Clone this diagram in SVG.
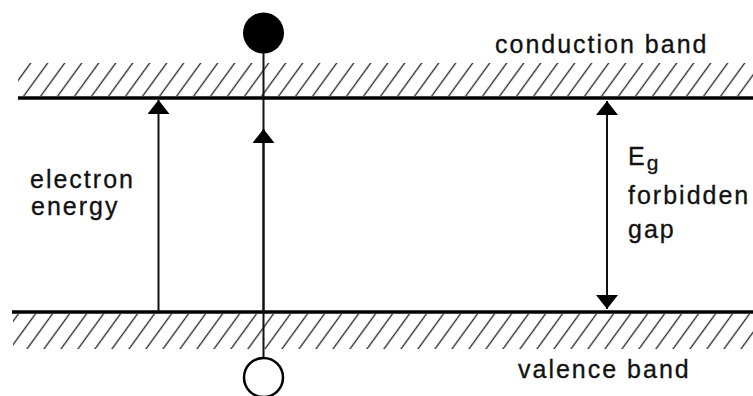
<svg xmlns="http://www.w3.org/2000/svg" width="753" height="396" viewBox="0 0 753 396">
<style>
  .lbl { font-family: "Liberation Sans", Arial, Helvetica, sans-serif; font-size: 25px; fill: #111; letter-spacing: 2px; stroke: #111; stroke-width: 0.3; }
  .band { stroke: #000; stroke-width: 3.5; }
  .conn { stroke: #111; stroke-width: 2; fill: none; }
</style>
<defs>
  <pattern id="hatch" patternUnits="userSpaceOnUse" width="17" height="40" patternTransform="skewX(-36)">
    <line x1="8.5" y1="-5" x2="8.5" y2="45" stroke="#222" stroke-width="1.6"/>
  </pattern>
  <marker id="head" markerUnits="userSpaceOnUse" markerWidth="14" markerHeight="22" viewBox="0 0 14 22" refX="14" refY="11" orient="auto">
    <path d="M0,0 L14,11 L0,22 Z" fill="#000"/>
  </marker>
  <marker id="headStart" markerUnits="userSpaceOnUse" markerWidth="14" markerHeight="22" viewBox="0 0 14 22" refX="0" refY="11" orient="auto">
    <path d="M14,0 L0,11 L14,22 Z" fill="#000"/>
  </marker>
</defs>
<rect width="753" height="396" fill="#fff"/>

<g id="conduction-band">
  <rect x="18" y="63" width="735" height="33" fill="url(#hatch)"/>
  <line class="band" x1="18" y1="98" x2="753" y2="98"/>
  <text class="lbl" x="495" y="53">conduction band</text>
</g>

<g id="valence-band">
  <rect x="13" y="314" width="740" height="35" fill="url(#hatch)"/>
  <line class="band" x1="12" y1="312" x2="753" y2="312"/>
  <text class="lbl" x="518" y="378">valence band</text>
</g>

<g id="electron">
  <circle cx="263.5" cy="33" r="20.5" fill="#000"/>
</g>

<g id="hole">
  <circle cx="263.5" cy="377.5" r="19.5" fill="#fff" stroke="#000" stroke-width="2.5"/>
</g>

<g id="electron-energy-label">
  <text class="lbl" x="30" y="188">electron</text>
  <text class="lbl" x="31" y="215">energy</text>
</g>

<g id="gap-label">
  <text class="lbl" x="628" y="165">E<tspan font-size="21" dy="5">g</tspan></text>
  <text class="lbl" x="628" y="204">forbidden</text>
  <text class="lbl" x="628" y="238">gap</text>
</g>

<g id="connectors">
  <line class="conn" x1="158.5" y1="312" x2="158.5" y2="100" marker-end="url(#head)"/>
  <line class="conn" x1="263.5" y1="53" x2="263.5" y2="358"/>
  <line class="conn" x1="263.5" y1="312" x2="263.5" y2="129" marker-end="url(#head)"/>
  <line class="conn" x1="607" y1="101" x2="607" y2="309" marker-start="url(#headStart)" marker-end="url(#head)"/>
</g>
</svg>
